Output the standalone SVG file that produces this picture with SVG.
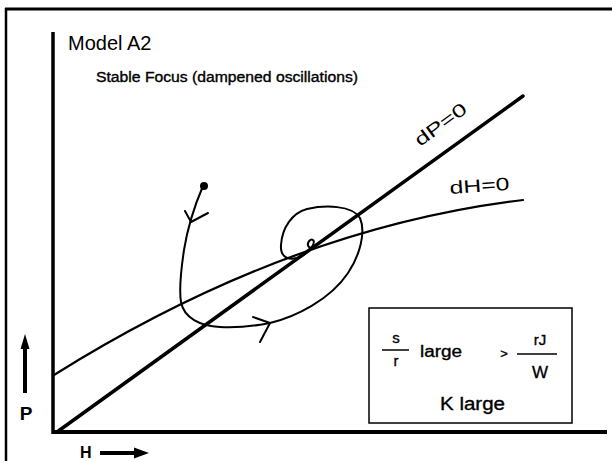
<svg xmlns="http://www.w3.org/2000/svg" width="612" height="461" viewBox="0 0 612 461">
<style>
.t{font-family:"Liberation Sans",Arial,sans-serif;fill:#000}
.b{font-weight:bold}
.m{stroke:#000;stroke-width:0.35}
.ln{fill:none;stroke:#000;stroke-linecap:round;stroke-linejoin:round}
</style>
<rect width="612" height="461" fill="#fff"/>
<g id="frame">
<line x1="6" y1="8" x2="6" y2="461" stroke="#000" stroke-width="2.5"/>
<line x1="5" y1="9" x2="612" y2="9" stroke="#000" stroke-width="3"/>
</g>
<g id="axes">
<line x1="53" y1="32" x2="53" y2="434" stroke="#000" stroke-width="3.5"/>
<line x1="52" y1="432" x2="607" y2="432" stroke="#000" stroke-width="4"/>
</g>
<g id="titles">
<text class="t" x="68" y="50" font-size="20">Model A2</text>
<text class="t m" x="96" y="82" font-size="14" textLength="262" lengthAdjust="spacingAndGlyphs">Stable Focus (dampened oscillations)</text>
</g>
<g id="connectors">
<line id="dP" class="ln" x1="57" y1="432" x2="523" y2="96" stroke-width="3.5"/>
<path id="dH" class="ln" d="M54,375 Q289,228 523,200" stroke-width="2.2"/>
<path id="trajectory" class="ln" stroke-width="2" d="M203,186 C197,200 188,225 184,250 C181,270 179,290 181,302 C184,318 200,326 220,327 C240,328 255,326 270,323 C295,317 330,300 348,273 C360,255 366,232 360,218 C352,205 325,205 307,209 C292,213 282,228 281,245 C280,258 290,262 302,256 C310,251 316,243 313,240 C310,238 306,244 309,247 C311,249 315,246 317,244"/>
<polyline class="ln" stroke-width="2" points="185,211 191,222 208,213"/>
<polyline class="ln" stroke-width="2" points="253,317 270,323 260,342"/>
<circle cx="204" cy="186" r="4" fill="#000"/>
</g>
<g id="labels">
<text class="t" font-size="18" transform="translate(420,147) rotate(-36)" textLength="60" lengthAdjust="spacingAndGlyphs">dP=0</text>
<text class="t" font-size="18" transform="translate(450,194) rotate(-4)" textLength="60" lengthAdjust="spacingAndGlyphs">dH=0</text>
</g>
<g id="conditions">
<rect x="369" y="308" width="203" height="115" fill="none" stroke="#000" stroke-width="1.5"/>
<text class="t m" x="396" y="343" font-size="15" text-anchor="middle">s</text>
<line x1="382" y1="350" x2="409" y2="350" stroke="#000" stroke-width="1.5"/>
<text class="t m" x="396" y="366" font-size="15" text-anchor="middle">r</text>
<text class="t m" x="420" y="357" font-size="16" textLength="42" lengthAdjust="spacingAndGlyphs">large</text>
<text class="t m" x="504" y="358" font-size="13" text-anchor="middle">&gt;</text>
<line x1="517" y1="354" x2="557" y2="354" stroke="#000" stroke-width="1.5"/>
<text class="t m" x="540" y="345" font-size="15" text-anchor="middle">rJ</text>
<text class="t m" x="540" y="378" font-size="17" text-anchor="middle">W</text>
<text class="t m" x="440" y="410" font-size="18" textLength="65" lengthAdjust="spacingAndGlyphs">K large</text>
</g>
<g id="axis-labels">
<line x1="25" y1="393" x2="25" y2="344" stroke="#000" stroke-width="4"/>
<polygon points="25,334 20.5,349 29.5,349" fill="#000"/>
<text class="t b" x="26" y="420" font-size="19" text-anchor="middle">P</text>
<text class="t b" x="80" y="458" font-size="16">H</text>
<line x1="100" y1="453" x2="138" y2="453" stroke="#000" stroke-width="4"/>
<polygon points="149,453 134,447.5 134,458.5" fill="#000"/>
</g>
</svg>
